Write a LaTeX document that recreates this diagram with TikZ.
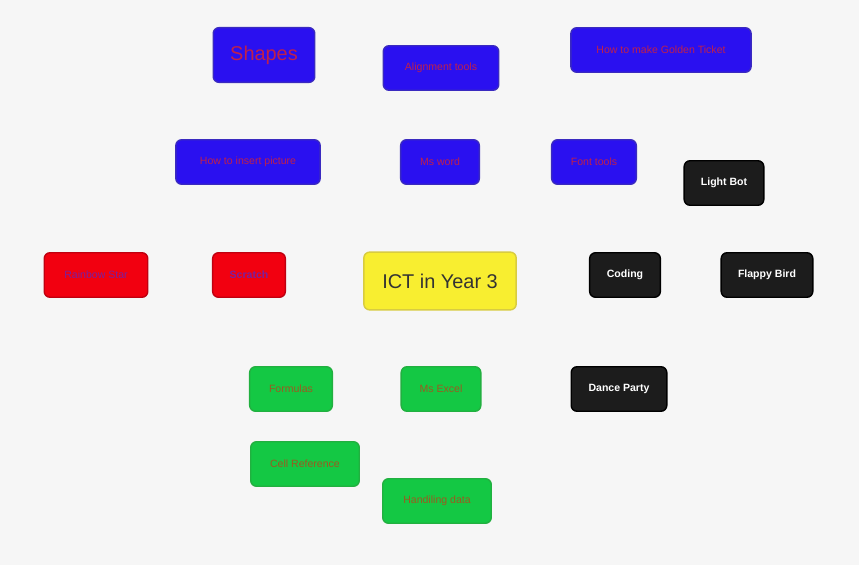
\documentclass[tikz,border=0pt]{standalone}
\usepackage{fontspec}
\setmainfont{Liberation Sans}
\usetikzlibrary{calc,backgrounds}
\definecolor{bg}{HTML}{F6F6F6}
\definecolor{link}{HTML}{555A66}
\definecolor{bluefill}{HTML}{2A10F0}
\definecolor{blueline}{HTML}{3A2AC0}
\definecolor{bluetext}{HTML}{C0204A}
\definecolor{redfill}{HTML}{F20010}
\definecolor{redline}{HTML}{C00010}
\definecolor{redtext}{HTML}{7A1FA0}
\definecolor{greenfill}{HTML}{14C844}
\definecolor{greenline}{HTML}{22B040}
\definecolor{greentext}{HTML}{9B5A20}
\definecolor{blackfill}{HTML}{1C1C1C}
\definecolor{yellowfill}{HTML}{F8EE30}
\definecolor{yellowline}{HTML}{D8CC40}
\tikzset{
  topic/.style={rounded corners=5pt, line width=1.2pt, inner sep=0pt,
    font=\fontsize{9}{10}\selectfont},
  wordbox/.style={topic, fill=bluefill, draw=blueline, text=bluetext, minimum height=38pt},
  scratchbox/.style={topic, fill=redfill, draw=redline, text=redtext, minimum height=38pt},
  excelbox/.style={topic, fill=greenfill, draw=greenline, text=greentext, minimum height=38pt},
  codingbox/.style={topic, fill=blackfill, draw=black, text=white, minimum height=38pt,
    font=\fontsize{9}{10}\selectfont\bfseries},
}
% tapered link: thin at the child, wide at the parent
\newcommand\wedgelink[3]{%
  \fill[link] ($(#1.center)!0.6!90:(#2.center)$) -- ($(#2.center)!#3!90:(#1.center)$)
    -- ($(#2.center)!#3!-90:(#1.center)$) -- ($(#1.center)!0.6!-90:(#2.center)$) -- cycle;}
\begin{document}
\begin{tikzpicture}[x=0.03cm, y=-0.03cm]
 \fill[bg] (0,0) rectangle (859,565);
 \useasboundingbox (0,0) rectangle (859,565);
 % centre
 \node[topic, fill=yellowfill, draw=yellowline, text=black!80, minimum width=153*0.85pt,
   minimum height=58*0.85pt, font=\fontsize{17}{19}\selectfont] (ict) at (440,281) {ICT in Year 3};
 % Ms word branch
 \node[wordbox, minimum width=79*0.85pt] (word) at (440,162) {Ms word};
 \node[wordbox, minimum width=102*0.85pt, minimum height=55*0.85pt,
   font=\fontsize{17}{19}\selectfont] (shapes) at (264,55) {Shapes};
 \node[wordbox, minimum width=116*0.85pt] (align) at (441,68) {Alignment tools};
 \node[wordbox, minimum width=181*0.85pt] (ticket) at (661,50) {How to make Golden Ticket};
 \node[wordbox, minimum width=145*0.85pt] (picture) at (248,162) {How to insert picture};
 \node[wordbox, minimum width=85*0.85pt] (font) at (594,162) {Font tools};
 % Scratch branch
 \node[scratchbox, minimum width=73*0.85pt, font=\fontsize{9}{10}\selectfont\bfseries] (scratch) at (249,275) {Scratch};
 \node[scratchbox, minimum width=104*0.85pt] (rainbow) at (96,275) {Rainbow Star};
 % Coding branch
 \node[codingbox, minimum width=71*0.85pt] (coding) at (625,275) {Coding};
 \node[codingbox, minimum width=80*0.85pt] (lightbot) at (724,183) {Light Bot};
 \node[codingbox, minimum width=92*0.85pt] (flappy) at (767,275) {Flappy Bird};
 \node[codingbox, minimum width=96*0.85pt] (dance) at (619,389) {Dance Party};
 % Ms Excel branch
 \node[excelbox, minimum width=80*0.85pt] (excel) at (441,389) {Ms Excel};
 \node[excelbox, minimum width=83*0.85pt] (formulas) at (291,389) {Formulas};
 \node[excelbox, minimum width=109*0.85pt] (cellref) at (305,464) {Cell Reference};
 \node[excelbox, minimum width=109*0.85pt] (handling) at (437,501) {Handiling data};
 %
 \begin{scope}[on background layer]
  \fill[bg] (0,0) rectangle (859,565);
  \wedgelink{word}{ict}{3}
  \wedgelink{scratch}{ict}{3}
  \wedgelink{coding}{ict}{3}
  \wedgelink{excel}{ict}{3}
  \wedgelink{shapes}{word}{3}
  \wedgelink{align}{word}{3}
  \wedgelink{ticket}{word}{3.5}
  \wedgelink{picture}{word}{3}
  \wedgelink{font}{word}{3}
  \wedgelink{rainbow}{scratch}{3}
  \wedgelink{lightbot}{coding}{3}
  \wedgelink{flappy}{coding}{3}
  \wedgelink{dance}{coding}{3}
  \wedgelink{formulas}{excel}{3}
  \wedgelink{cellref}{excel}{3.5}
  \wedgelink{handling}{excel}{3}
 \end{scope}
\end{tikzpicture}
\end{document}
